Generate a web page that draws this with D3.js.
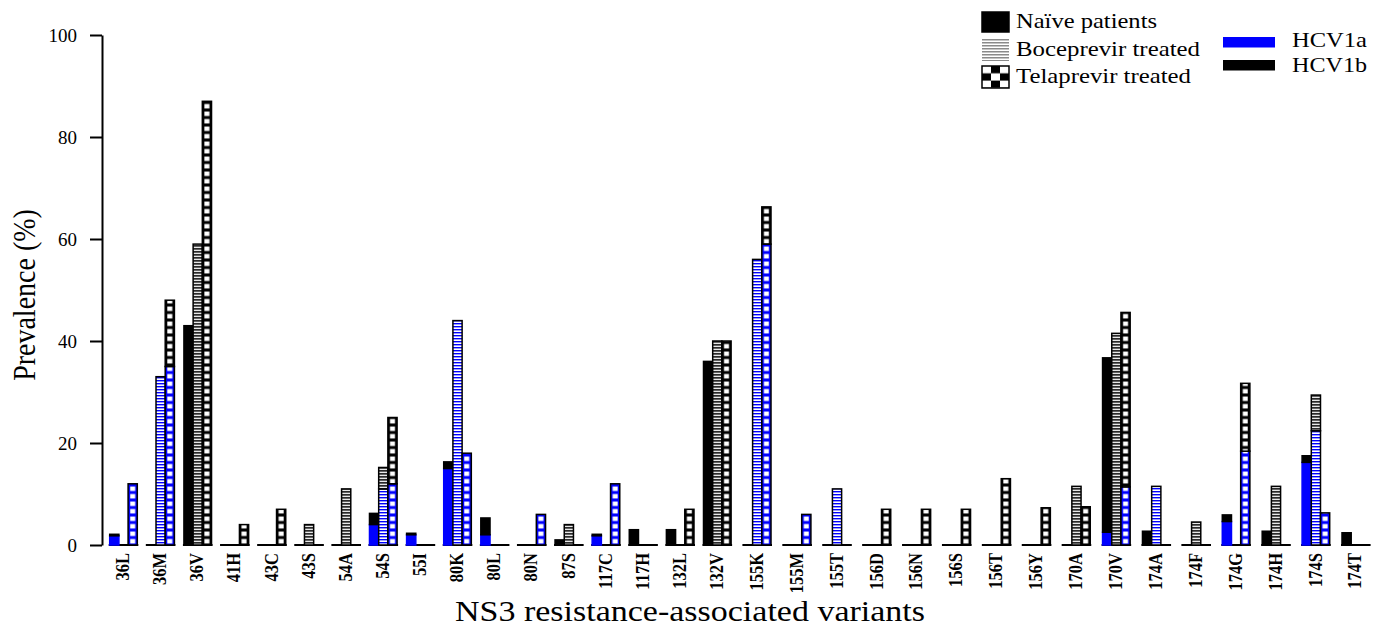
<!DOCTYPE html>
<html>
<head>
<meta charset="utf-8">
<script src="https://cdn.jsdelivr.net/npm/d3@7"></script>
<style>
body { margin: 0; background: #fff; }
text { font-family: "Liberation Serif", "Times New Roman", serif; }
</style>
</head>
<body>
<svg id="chart" width="1383" height="633"></svg>
<script>
// NS3 variants on the x axis
var variants = ["36L","36M","36V","41H","43C","43S","54A","54S","55I","80K","80L","80N","87S",
	"117C","117H","132L","132V","155K","155M","155T","156D","156N","156S","156T","156Y",
	"170A","170V","174A","174F","174G","174H","174S","174T"];

// Prevalence (%), split by subtype
var naiveHCV1a = [1.8,0,0,0,0,0,0,4,2,15,2,0,0,1.8,0,0,0,0,0,0,0,0,0,0,0,0,2.5,0,0,4.6,0,16.2,0];
var naiveHCV1b = [0.3,0,43,0,0,0,0,2.2,0.3,1.3,3.3,0,1,0.3,3,3,36,0,0,0,0,0,0,0,0,0,34.2,2.7,0,1.3,2.7,1.3,2.4];
var bocepHCV1a = [0,33,0,0,0,0,0,11,0,44,0,0,0,0,0,0,0,56,0,11,0,0,0,0,0,0,0,11.5,0,0,0,22.4,0];
var bocepHCV1b = [0,0,59,0,0,4,11,4.2,0,0,0,0,4,0,0,0,40,0,0,0,0,0,0,0,0,11.5,41.5,0,4.5,0,11.5,7,0];
var telaHCV1a = [12,35,0,0,0,0,0,12,0,18,0,6,0,12,0,0,0,59,6,0,0,0,0,0,0,0,11.4,0,0,18.4,0,6.3,0];
var telaHCV1b = [0,13,87,4,7,0,0,13,0,0,0,0,0,0,0,7,40,7.3,0,0,7,7,7,13,7.3,7.5,34.2,0,0,13.3,0,0,0];

var treatments = ["Naïve patients","Boceprevir treated","Telaprevir treated"];
var subtypes = ["HCV1a","HCV1b"];
var yTicks = [0,20,40,60,80,100];

var BLUE = "#0000ff";
var BAR_W = 9.2;

var svg = d3.select("#chart");
var defs = svg.append("defs");

// boceprevir hatching
function stripes(id, bg, col, h)
{
	var p = defs.append("pattern").attr("id",id)
		.attr("patternUnits","userSpaceOnUse").attr("width",4).attr("height",3);
	p.append("rect").attr("width",4).attr("height",3).attr("fill",bg);
	p.append("rect").attr("width",4).attr("height",h).attr("fill",col);
}
stripes("bocK","#e8e8e8","#2a2a2a",1.7);
stripes("bocB","#fff",BLUE,1.4);
stripes("bocL","#fff","#8a8a8a",1.5);

// telaprevir: white squares on a dark column
function squares(id, col)
{
	var p = defs.append("pattern").attr("id",id)
		.attr("patternUnits","userSpaceOnUse").attr("width",BAR_W).attr("height",7.5);
	p.append("rect").attr("width",BAR_W).attr("height",7.5).attr("fill",col);
	p.append("rect").attr("x",2.1).attr("y",1.5).attr("width",5).attr("height",4.5).attr("fill","#fff");
}
squares("telK","#000");
squares("telB",BLUE);

// legend checker
var chk = defs.append("pattern").attr("id","chk")
	.attr("patternUnits","userSpaceOnUse").attr("width",18).attr("height",14.6);
chk.append("rect").attr("width",18).attr("height",14.6).attr("fill","#fff");
chk.append("rect").attr("x",9).attr("width",9).attr("height",7.3).attr("fill","#000");
chk.append("rect").attr("y",7.3).attr("width",9).attr("height",7.3).attr("fill","#000");

// scales
var y = d3.scaleLinear().domain([0,100]).range([545,35]);
var xIdx = d3.scaleLinear().domain([0,16,32]).range([123.5,717.3,1355.8]);
var x = function(v) { return xIdx(variants.indexOf(v)); };
var sub = d3.scaleBand().domain(treatments).range([-1.5*BAR_W, 1.5*BAR_W]);

// y axis
var yAxis = svg.append("g")
	.attr("transform","translate(102,0)")
	.call(d3.axisLeft(y).tickValues(yTicks).tickSize(12).tickSizeOuter(0).tickPadding(13));
yAxis.select(".domain").attr("stroke-width",2);
yAxis.selectAll(".tick line").attr("stroke-width",2);
yAxis.selectAll(".tick text")
	.attr("font-family","Liberation Serif, Times New Roman, serif")
	.attr("font-size","19px").attr("fill","#000");

// build stacked segments
var segs = [];
var fills = [
	[BLUE,"#000"],
	["url(#bocB)","url(#bocK)"],
	["url(#telB)","url(#telK)"]
];
var vals = [
	[naiveHCV1a,naiveHCV1b],
	[bocepHCV1a,bocepHCV1b],
	[telaHCV1a,telaHCV1b]
];
variants.forEach(function(v,i) {
	treatments.forEach(function(t,j) {
		var a = vals[j][0][i], b = vals[j][1][i];
		if( a > 0 ) segs.push({v:v, t:t, j:j, s:0, y0:0, y1:a});
		if( b > 0 ) segs.push({v:v, t:t, j:j, s:1, y0:a, y1:a+b});
	});
});

// zero baselines under each group
svg.append("g").selectAll("line")
	.data(variants)
	.enter().append("line")
	.attr("x1", function(d) { return x(d) - 1.5*BAR_W - 1; })
	.attr("x2", function(d) { return x(d) + 1.5*BAR_W + 1; })
	.attr("y1", y(0)).attr("y2", y(0))
	.attr("stroke","#000").attr("stroke-width",2);

// bars, each in its own local frame so the patterns line up
svg.append("g").selectAll("g")
	.data(segs)
	.enter().append("g")
	.attr("transform", function(d) { return "translate(" + (x(d.v) + sub(d.t)) + "," + y(0) + ")"; })
	.append("rect")
	.attr("x",0)
	.attr("width",BAR_W)
	.attr("y", function(d) { return y(d.y1) - y(0); })
	.attr("height", function(d) { return y(d.y0) - y(d.y1); })
	.attr("fill", function(d) { return fills[d.j][d.s]; })
	.attr("stroke", function(d) { return (d.j == 0 && d.s == 0) ? BLUE : "#000"; })
	.attr("stroke-width",1.5);

// category labels (glyphs a little wider, as in the figure)
svg.append("g").selectAll("text")
	.data(variants)
	.enter().append("text")
	.attr("transform", function(d) { return "translate(" + (x(d) - 1) + ",553) rotate(-90) scale(1,1.15)"; })
	.attr("dy","0.35em")
	.attr("text-anchor","end")
	.attr("font-weight","bold")
	.attr("font-size","16.5px")
	.text(function(d) { return d; });

// axis titles
svg.append("text")
	.attr("transform","translate(35,295) rotate(-90) scale(1,1.15)")
	.attr("text-anchor","middle")
	.attr("font-size","28px")
	.text("Prevalence (%)");
svg.append("text")
	.attr("x",455).attr("y",621)
	.attr("font-size","29px")
	.attr("textLength",470).attr("lengthAdjust","spacingAndGlyphs")
	.text("NS3 resistance-associated variants");

// legend: treatment
var legFill = ["#000","url(#bocL)","url(#chk)"];
var legTop = [12,39,66];
var legBase = [28,56,83];
var legLen = [141,184,175];
var leg = svg.append("g");
treatments.forEach(function(t,i) {
	var g = leg.append("g").attr("transform","translate(982," + legTop[i] + ")");
	g.append("rect").attr("width",27).attr("height",22 - (i == 0 ? 2 : 0))
		.attr("fill",legFill[i])
		.attr("stroke", i == 1 ? "none" : "#000").attr("stroke-width",1.5);
	leg.append("text").attr("x",1016).attr("y",legBase[i])
		.attr("font-size","21px")
		.attr("textLength",legLen[i]).attr("lengthAdjust","spacingAndGlyphs")
		.text(t);
});

// legend: subtype
var subFill = [BLUE,"#000"];
var subTop = [37,60];
var subBase = [47,72];
subtypes.forEach(function(s,i) {
	leg.append("rect").attr("x",1223).attr("y",subTop[i])
		.attr("width",52).attr("height",10.5).attr("fill",subFill[i]);
	leg.append("text").attr("x",1292).attr("y",subBase[i])
		.attr("font-size","22px")
		.attr("textLength",75).attr("lengthAdjust","spacingAndGlyphs")
		.text(s);
});
</script>
</body>
</html>
